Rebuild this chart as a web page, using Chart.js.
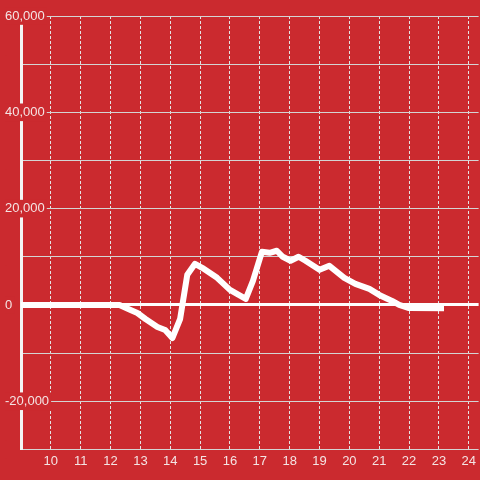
<!DOCTYPE html>
<html>
<head>
<meta charset="utf-8">
<script src="https://cdn.jsdelivr.net/npm/chart.js@4/dist/chart.umd.min.js"></script>
<style>
  html, body { margin: 0; padding: 0; background: #cb2a2f; }
  #wrap { width: 480px; height: 480px; }
</style>
</head>
<body>
<div id="wrap"><canvas id="c" width="480" height="480"></canvas></div>
<script>
const bg = '#cb2a2f';

// x = hour of day, y = value
const hours = [9.0, 12.3, 12.67, 12.9, 13.17, 13.57, 13.83, 14.07, 14.33, 14.57, 14.83, 15.07,
  15.57, 16.0, 16.53, 16.77, 17.07, 17.33, 17.57, 17.77, 18.03, 18.3, 18.53, 19.0,
  19.33, 19.83, 20.2, 20.67, 21.0, 21.43, 21.67, 22.0, 23.17];
const values = [0, 0, -1040, -1670, -2920, -4580, -5210, -6880, -2920, 6250, 8540, 7710,
  5625, 3125, 1250, 5000, 11040, 10830, 11250, 10000, 9170, 10000, 9170, 7290,
  8125, 5625, 4375, 3330, 2080, 830, 0, -650, -700];

const yLabelEvery = 20000;

const points = hours.map((h, i) => ({ x: h, y: values[i] }));

new Chart(document.getElementById('c'), {
  type: 'line',
  data: {
    datasets: [{
      data: points,
      borderColor: '#ffffff',
      borderWidth: 6,
      borderJoinStyle: 'round',
      borderCapStyle: 'butt',
      pointRadius: 0,
      tension: 0,
      fill: false
    }]
  },
  options: {
    responsive: false,
    animation: false,
    layout: { padding: { left: 5, right: 0, top: 16, bottom: 7 } },
    plugins: { legend: { display: false }, tooltip: { enabled: false } },
    scales: {
      x: {
        type: 'linear',
        min: 9,
        max: 24.33,
        grid: {
          drawTicks: false,
          color: ctx => ctx.tick && ctx.tick.value === 9 ? 'rgba(0,0,0,0)' : '#e4e4e4',
          lineWidth: 1
        },
        border: { display: false, dash: [3, 2] },
        ticks: {
          stepSize: 1,
          includeBounds: false,
          padding: 4,
          color: '#f4e4e4',
          font: { family: 'Liberation Sans', size: 13 },
          maxRotation: 0,
          autoSkip: false,
          callback: v => v === 9 ? '' : String(v)
        }
      },
      y: {
        min: -30000,
        max: 60000,
        afterFit: scale => { scale.width = 16; },
        grid: {
          drawTicks: false,
          color: ctx => ctx.tick && ctx.tick.value === 0 ? '#ffffff' : '#d4d4d4',
          lineWidth: ctx => ctx.tick && ctx.tick.value === 0 ? 3 : 1
        },
        border: { display: true, color: '#f4f4f4', width: 3 },
        ticks: {
          stepSize: 10000,
          mirror: true,
          padding: -16,
          color: '#f4e4e4',
          font: { family: 'Liberation Sans', size: 13 },
          showLabelBackdrop: true,
          backdropColor: bg,
          backdropPadding: { left: 0, right: 2, top: 1, bottom: 1 },
          callback: v => v % yLabelEvery === 0 ? v.toLocaleString('en-US') : ''
        }
      }
    }
  }
});
</script>
</body>
</html>
